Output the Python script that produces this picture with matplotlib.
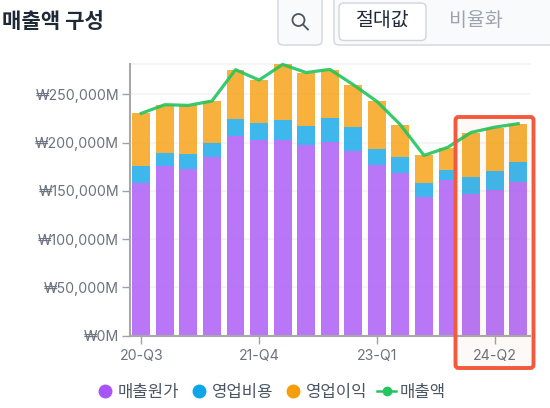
import matplotlib
matplotlib.use('Agg')
import matplotlib.pyplot as plt
from matplotlib.lines import Line2D
from matplotlib.patches import FancyBboxPatch, Circle

plt.rcParams['font.family'] = ['Inter', 'Noto Sans CJK KR', 'DejaVu Sans']

quarters = ['20-Q3', '20-Q4', '21-Q1', '21-Q2', '21-Q3', '21-Q4', '22-Q1', '22-Q2', '22-Q3',
            '22-Q4', '23-Q1', '23-Q2', '23-Q3', '23-Q4', '24-Q1', '24-Q2', '24-Q3']
cost = [158.4, 175.7, 172.9, 184.6, 207.1, 202.6, 202.3, 197.1, 200.5,
        191.5, 176.7, 168.4, 143.5, 161.1, 146.6, 151.1, 159.4]
opex = [17.3, 13.8, 15.2, 14.9, 17.3, 17.7, 21.1, 19.7, 25.3,
        24.3, 16.6, 16.6, 14.5, 10.4, 17.7, 19.0, 20.4]
profit = [54.6, 49.8, 50.5, 43.6, 51.2, 44.5, 57.6, 55.3, 49.8,
          44.2, 49.4, 33.5, 28.7, 23.2, 45.9, 45.4, 39.8]
revenue = [230.3, 239.3, 238.6, 243.1, 275.6, 264.8, 281.0, 272.6, 275.9,
           260.0, 242.7, 218.5, 186.7, 195.0, 210.5, 216.0, 219.6]
ytick_vals = [0, 50, 100, 150, 200, 250]
ytick_labels = ['₩0M', '₩50,000M', '₩100,000M', '₩150,000M', '₩200,000M', '₩250,000M']
xtick_idx = [0, 5, 10, 15]

PURPLE, BLUE, ORANGE, GREEN = '#a855f7', '#0ea5e9', '#f59e0b', '#22c55e'
W, H = 550, 408

fig = plt.figure(figsize=(W / 100, H / 100), dpi=100)
ax = fig.add_axes([129.5 / W, 1 - 335.5 / H, (530 - 129.5) / W, (335.5 - 63.5) / H])

x = list(range(len(quarters)))
bottom2 = [a + b for a, b in zip(cost, opex)]
ax.bar(x, cost, 0.76, color=PURPLE, alpha=0.8, zorder=2)
ax.bar(x, opex, 0.76, bottom=cost, color=BLUE, alpha=0.8, zorder=2)
ax.bar(x, profit, 0.76, bottom=bottom2, color=ORANGE, alpha=0.8, zorder=2)
ax.plot(x, revenue, color=GREEN, lw=2.3, alpha=0.9, zorder=3, clip_on=False)

ax.set_xlim(-0.5, 16.5)
ax.set_ylim(0, 282)
ax.set_yticks(ytick_vals, ytick_labels)
ax.set_xticks(xtick_idx, [quarters[i] for i in xtick_idx])
ax.grid(axis='y', color='#f3f4f6', lw=1.2, zorder=0)
ax.axhline(282, color='#f3f4f6', lw=1.2, zorder=0, clip_on=False)
ax.tick_params(axis='both', color='#9ca3af', labelcolor='#6b7280', labelsize=10.2, length=5.5, width=1)
ax.tick_params(axis='x', pad=4)
ax.tick_params(axis='y', pad=2)
for s in ['top', 'right']:
    ax.spines[s].set_visible(False)
for s in ['left', 'bottom']:
    ax.spines[s].set_color('#a8a8a8')
    ax.spines[s].set_linewidth(1.5)

handles = [
    Line2D([], [], ls='', marker='o', ms=9, color=PURPLE),
    Line2D([], [], ls='', marker='o', ms=9, color=BLUE),
    Line2D([], [], ls='', marker='o', ms=9, color=ORANGE),
    Line2D([], [], color=GREEN, lw=1.8, marker='o', ms=6),
]
fig.legend(handles, ['매출원가', '영업비용', '영업이익', '매출액'], ncol=4, frameon=False,
           loc='center', bbox_to_anchor=(270.5 / W, 1 - 392 / H), fontsize=12, labelcolor='#4b5563',
           handletextpad=0.2, columnspacing=0.6, handlelength=1.15)

# page furniture drawn in pixel coordinates
ov = fig.add_axes([0, 0, 1, 1], zorder=5)
ov.set_xlim(0, W)
ov.set_ylim(H, 0)
ov.axis('off')
ov.patch.set_alpha(0)

ov.text(2, 22, '매출액 구성', fontsize=15.2, fontweight='bold', color='#1f2937', va='center')

ov.add_patch(FancyBboxPatch((278, -8), 44, 53, boxstyle='round,pad=0,rounding_size=5',
                            fc='#f9fafb', ec='#d1d5db', lw=1))
ov.add_patch(Circle((298.5, 20), 6, fc='none', ec='#4b5563', lw=1.3))
ov.plot([303, 308], [24.5, 29.5], color='#4b5563', lw=1.3)

ov.add_patch(FancyBboxPatch((334, -8), 230, 53, boxstyle='round,pad=0,rounding_size=5',
                            fc='#f9fafb', ec='#d1d5db', lw=1))
ov.add_patch(FancyBboxPatch((339, 3), 87, 37.5, boxstyle='round,pad=0,rounding_size=5',
                            fc='white', ec='#d1d5db', lw=1))
ov.text(382.5, 21, '절대값', fontsize=14, color='#1f2937', ha='center', va='center')
ov.text(476, 21, '비율화', fontsize=14, color='#9ca3af', ha='center', va='center')

ov.add_patch(FancyBboxPatch((455.5, 117), 78, 251, boxstyle='round,pad=0,rounding_size=3',
                            fc='#b45309', alpha=0.03, ec='none'))
ov.add_patch(FancyBboxPatch((455.5, 117), 78, 251, boxstyle='round,pad=0,rounding_size=3',
                            fc='none', ec='#f4593d', lw=2.8))

fig.savefig('out.png', dpi=100)
